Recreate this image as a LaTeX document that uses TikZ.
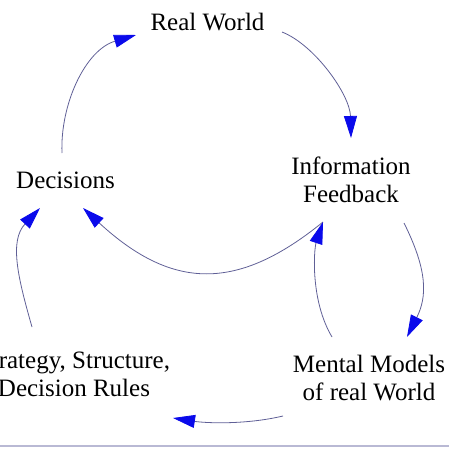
\documentclass[tikz,border=0pt]{standalone}
\usepackage{fontspec}
\setmainfont{Liberation Serif}
\usetikzlibrary{arrows.meta}
\definecolor{linecol}{RGB}{95,95,150}
\definecolor{headcol}{RGB}{10,10,235}
\definecolor{rulecol}{RGB}{185,185,212}
\tikzset{
  label text/.style={font=\fontsize{25}{28}\selectfont, inner sep=0pt, anchor=base, align=center},
  flow/.style={draw=linecol, line width=0.8pt,
    -{Triangle[length=22pt,width=13pt,color=headcol]}}
}
\begin{document}
\begin{tikzpicture}[x=1pt,y=-1pt]
\useasboundingbox (0,0) rectangle (449,453);
\clip (0,0) rectangle (449,453);
% nodes (anchored at the baseline of the last line)
\node[label text] (real) at (207.5,30) {Real World};
\node[label text] (dec) at (65.5,188) {Decisions};
\node[label text] (info) at (351,202) {Information\\Feedback};
\node[label text] (mental) at (369,400.5) {Mental Models\\of real World};
\node[label text] (strat) at (74,396) {Strategy, Structure,\\Decision Rules};
% connector end points
\coordinate (decOut) at (62,153);
\coordinate (realIn) at (136,35);
\coordinate (realOut) at (282,32);
\coordinate (infoIn) at (351,138);
\coordinate (infoOutL) at (323,222);
\coordinate (decInR) at (83,208);
\coordinate (infoOutR) at (404,223);
\coordinate (mentalIn) at (407,337);
\coordinate (mentalOutUp) at (332,337);
\coordinate (infoInB) at (323,222);
\coordinate (stratOut) at (32,327);
\coordinate (decInL) at (40,208);
\coordinate (mentalOutL) at (283,416);
\coordinate (stratIn) at (173,418);
% connectors
\draw[flow] (decOut) .. controls (60,105) and (85,50) .. (realIn);
\draw[flow] (realOut) .. controls (315,45) and (350,95) .. (infoIn);
\draw[flow] (infoOutL) .. controls (238,291) and (173,291) .. (decInR);
\draw[flow] (infoOutR) .. controls (428,271) and (427,297) .. (mentalIn);
\draw[flow] (mentalOutUp) .. controls (310,300) and (314,249) .. (infoInB);
\draw[flow] (stratOut) .. controls (18,278) and (9,241) .. (decInL);
\draw[flow] (mentalOutL) .. controls (245,425) and (205,423) .. (stratIn);
% bottom rule
\draw[rulecol, line width=2pt] (0,445.5) -- (449,445.5);
\end{tikzpicture}
\end{document}
